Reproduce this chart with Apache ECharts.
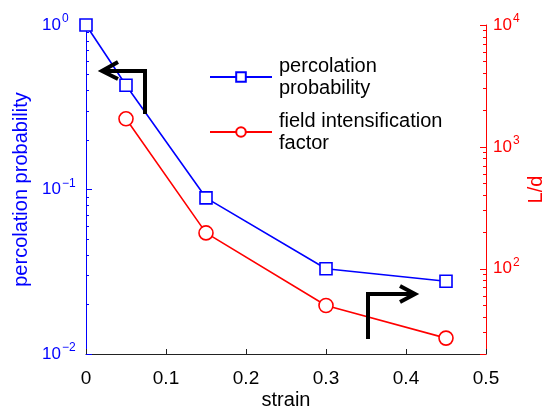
<!DOCTYPE html>
<html>
<head>
<meta charset="utf-8">
<script src="https://cdn.jsdelivr.net/npm/echarts@6/dist/echarts.min.js"></script>
<style>html,body{margin:0;padding:0;background:#fff}#c{width:548px;height:408px}</style>
</head>
<body>
<div id="c"></div>
<script>
var strain = [0, 0.05, 0.15, 0.3, 0.45];
var percolation = [1.0, 0.43, 0.089, 0.033, 0.0277];
var strainLd = [0.05, 0.15, 0.3, 0.45];
var ldValues = [1700, 197, 50, 27];
var xTicks = [0, 0.1, 0.2, 0.3, 0.4, 0.5];

var FONT = '"Liberation Sans", Arial, sans-serif';
var chart = echarts.init(document.getElementById('c'), null, {renderer: 'canvas'});

function supFmt(v) {
  var e = Math.round(Math.log10(v));
  var s = e < 0 ? '\u2212' + (-e) : '' + e;
  return '{b|10}{e|' + s + '}';
}
function rich(color) {
  return {
    b: {fontSize: 17, lineHeight: 17, color: color, fontFamily: FONT},
    e: {fontSize: 12, lineHeight: 12, color: color, fontFamily: FONT,
        padding: [0, 0, 12, 1]}
  };
}

var option = {
  animation: false,
  backgroundColor: '#fff',
  grid: {left: 86, right: 62, top: 25, bottom: 54, containLabel: false, outerBoundsMode: 'none'},
  legend: {
    orient: 'vertical',
    left: 209,
    top: 55,
    padding: 0,
    itemWidth: 62,
    itemHeight: 12,
    itemGap: 11,
    textStyle: {fontSize: 20, color: '#000', fontFamily: FONT, lineHeight: 22, padding: [0, 0, 0, 2]},
    data: ['percolation\nprobability', 'field intensification\nfactor']
  },
  xAxis: {
    type: 'value',
    min: 0, max: 0.5, interval: 0.1,
    name: 'strain',
    nameLocation: 'middle',
    nameGap: 36,
    nameMoveOverlap: false,
    nameTextStyle: {fontSize: 20, color: '#000', fontFamily: FONT},
    axisLine: {show: true, lineStyle: {color: '#222', width: 1}},
    axisTick: {show: true, inside: true, length: 5, lineStyle: {color: '#222'}},
    axisLabel: {fontSize: 19, color: '#000', fontFamily: FONT, margin: 15,
      formatter: function (v) { return String(Math.round(v * 10) / 10); }},
    splitLine: {show: false}
  },
  yAxis: [
    {
      type: 'log', logBase: 10, min: 0.01, max: 1,
      position: 'left',
      name: 'percolation probability',
      nameLocation: 'middle',
      nameGap: 55,
      nameMoveOverlap: false,
      nameRotate: 90,
      nameTextStyle: {fontSize: 20, color: '#0000ff', fontFamily: FONT},
      axisLine: {show: true, lineStyle: {color: '#0000ff', width: 1}},
      axisTick: {show: true, inside: true, length: 6, lineStyle: {color: '#0000ff'}},
      minorTick: {show: true, splitNumber: 9, length: 3, lineStyle: {color: '#0000ff'}},
      axisLabel: {formatter: supFmt, rich: rich('#0000ff'), margin: 44, align: 'left'},
      splitLine: {show: false}
    },
    {
      type: 'log', logBase: 10, min: 20, max: 10000,
      position: 'right',
      name: 'L/d',
      nameLocation: 'middle',
      nameGap: 40,
      nameMoveOverlap: false,
      nameRotate: 90,
      nameTextStyle: {fontSize: 20, color: '#ff0000', fontFamily: FONT},
      axisLine: {show: true, lineStyle: {color: '#ff0000', width: 1}},
      axisTick: {show: true, inside: true, length: 6, lineStyle: {color: '#ff0000'}},
      minorTick: {show: true, splitNumber: 9, length: 3, lineStyle: {color: '#ff0000'}},
      axisLabel: {formatter: supFmt, rich: rich('#ff0000'), margin: 7, showMinLabel: false},
      splitLine: {show: false}
    }
  ],
  series: [
    {
      name: 'percolation\nprobability',
      type: 'line',
      yAxisIndex: 0,
      data: strain.map(function (x, i) { return [x, percolation[i]]; }),
      symbol: 'rect', symbolSize: 12,
      showAllSymbol: true,
      lineStyle: {color: '#0000ff', width: 1.6},
      itemStyle: {color: '#fff', borderColor: '#0000ff', borderWidth: 1.6}
    },
    {
      name: 'field intensification\nfactor',
      type: 'line',
      yAxisIndex: 1,
      data: strainLd.map(function (x, i) { return [x, ldValues[i]]; }),
      symbol: 'circle', symbolSize: 14,
      showAllSymbol: true,
      lineStyle: {color: '#ff0000', width: 1.6},
      itemStyle: {color: '#fff', borderColor: '#ff0000', borderWidth: 1.6}
    }
  ],
  graphic: [
    {type: 'polyline', shape: {points: [[145, 114], [145, 71], [103, 71]]},
     style: {stroke: '#000', lineWidth: 4, fill: null, lineJoin: 'miter'}, z: 100},
    {type: 'polyline', shape: {points: [[118, 62], [102, 71], [118, 79]]},
     style: {stroke: '#000', lineWidth: 4, fill: null}, z: 100},
    {type: 'polyline', shape: {points: [[368, 339], [368, 294], [414, 294]]},
     style: {stroke: '#000', lineWidth: 4, fill: null, lineJoin: 'miter'}, z: 100},
    {type: 'polyline', shape: {points: [[400, 286], [415, 294], [400, 302]]},
     style: {stroke: '#000', lineWidth: 4, fill: null}, z: 100}
  ]
};
chart.setOption(option);
</script>
</body>
</html>
